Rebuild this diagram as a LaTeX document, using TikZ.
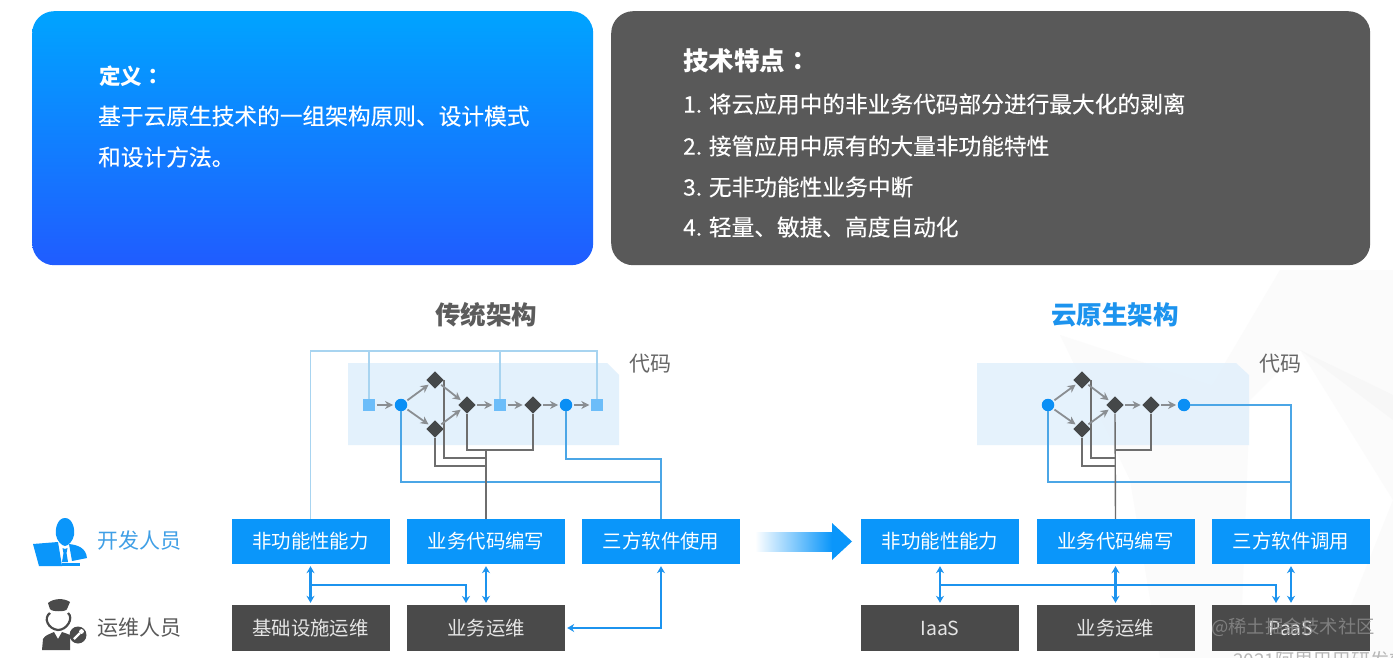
\documentclass[tikz,border=0pt]{standalone}
\usepackage{fontspec}
\setmainfont{Noto Sans CJK SC}
\newfontfamily\medf[FakeBold=0.25]{Noto Sans CJK SC}
\newfontfamily\tcf{Noto Sans CJK TC}
\usetikzlibrary{arrows.meta,calc,shapes.geometric}
\newcommand{\fs}[1]{\fontsize{#1pt}{#1pt}\selectfont}
\definecolor{boxblue}{HTML}{0A96FA}
\definecolor{boxdark}{HTML}{4A4A4A}
\definecolor{lineblue}{HTML}{4BA6E6}
\definecolor{paleline}{HTML}{A8D4F0}
\definecolor{arrowblue}{HTML}{1C93EE}
\definecolor{flowgray}{HTML}{8A8E92}
\definecolor{stemgray}{HTML}{6E6E6E}
\definecolor{panelblue}{HTML}{E3F1FC}
\definecolor{sqblue}{HTML}{6CBDF9}
\definecolor{dotblue}{HTML}{0A8FF5}
\definecolor{diam}{HTML}{454849}
\definecolor{roleblue}{HTML}{3F9FE6}
\tikzset{
  bluebox/.style={fill=boxblue,text=white,minimum width=158pt,minimum height=45pt,inner sep=0pt,font=\fs{19.4}},
  darkbox/.style={fill=boxdark,text=white!90!black,minimum width=158pt,minimum height=46pt,inner sep=0pt,font=\fs{19.4}},
  sq/.style={fill=sqblue,minimum size=12pt,inner sep=0pt},
  dot/.style={circle,fill=dotblue,minimum size=12.5pt,inner sep=0pt},
  dia/.style={diamond,fill=diam,minimum size=17.5pt,inner sep=0pt},
  flow/.style={flowgray,line width=1.8pt,-{Stealth[length=8pt,width=8pt]},shorten >=1.5pt,shorten <=1.5pt},
  stem/.style={stemgray,line width=1.4pt},
  pale/.style={paleline,line width=1.5pt},
  blueln/.style={lineblue,line width=1.4pt},
  dbl/.style={arrowblue,line width=2.2pt,{Stealth[length=7pt,width=8pt]}-{Stealth[length=7pt,width=8pt]}},
  sgl/.style={arrowblue,line width=2.2pt,-{Stealth[length=7pt,width=8pt]}},
  paneltxt/.style={anchor=west,text=white,inner sep=0pt},
}
\begin{document}
\begin{tikzpicture}[x=1pt,y=-1pt]
\useasboundingbox (0,0) rectangle (1393,658);
% background
\fill[white] (0,0) rectangle (1393,658);
\fill[white!98.4!black] (1060,335) -- (1212,385) -- (1280,270) -- (1393,270) -- (1393,658) -- (1330,658) -- (1393,500) -- (1300,350) -- (1250,400) -- (1240,658) -- (1160,658) -- (1130,480) -- cycle;
\fill[white!97!black] (1300,350) -- (1393,395) -- (1393,420) -- cycle;
% top panels
\node[rounded corners=22pt,minimum width=561pt,minimum height=254pt,inner sep=0pt,anchor=north west,
  shade,top color={rgb,255:red,0;green,164;blue,255},bottom color={rgb,255:red,32;green,92;blue,255}] (defpanel) at (32,11) {};
\node[rounded corners=22pt,fill={rgb,255:red,89;green,89;blue,89},minimum width=759pt,minimum height=254pt,inner sep=0pt,anchor=north west] (featpanel) at (611,11) {};
\node[paneltxt,font=\fs{21.5}\bfseries] (d0) at (99,76) {定义{\tcf\bfseries ：}};
\node[paneltxt,font=\fs{22.7}\medf] (d1) at (98,116) {基于云原生技术的一组架构原则、设计模式};
\node[paneltxt,font=\fs{22.7}\medf] (d2) at (98,157) {和设计方法。};
\node[paneltxt,font=\fs{25.5}\bfseries] (f0) at (683,61) {技术特点{\tcf\bfseries ：}};
\node[paneltxt,font=\fs{22.7}\medf] (f1) at (683,104) {1. 将云应用中的非业务代码部分进行最大化的剥离};
\node[paneltxt,font=\fs{22.7}\medf] (f2) at (683,146) {2. 接管应用中原有的大量非功能特性};
\node[paneltxt,font=\fs{22.7}\medf] (f3) at (683,187) {3. 无非功能性业务中断};
\node[paneltxt,font=\fs{22.7}\medf] (f4) at (683,227) {4. 轻量、敏捷、高度自动化};
% titles
\node[font=\fs{25.5}\bfseries,text=boxdark!90!white,inner sep=0pt] (t1) at (486,315) {传统架构};
\node[font=\fs{25.5}\bfseries,text=arrowblue,inner sep=0pt] (t2) at (1115,315) {云原生架构};
\node[font=\fs{21},text=black!60,inner sep=0pt] (c1) at (650,364) {代码};
\node[font=\fs{21},text=black!60,inner sep=0pt] (c2) at (1280,364) {代码};
% code panels
\fill[panelblue] (348,363) -- (607,363) -- (619,375) -- (619,445) -- (348,445) -- cycle;
\fill[panelblue,opacity=.9] (977,363) -- (1236,363) -- (1249,375) -- (1249,445) -- (977,445) -- cycle;
% boxes
\node[bluebox] (a1) at (310.5,541.5) {非功能性能力};
\node[bluebox] (a2) at (486,541.5) {业务代码编写};
\node[bluebox] (a3) at (661,541.5) {三方软件使用};
\node[darkbox] (b1) at (310.5,628) {基础设施运维};
\node[darkbox] (b2) at (486,628) {业务运维};
\node[bluebox] (a4) at (940,541.5) {非功能性能力};
\node[bluebox] (a5) at (1115.5,541.5) {业务代码编写};
\node[bluebox] (a6) at (1291,541.5) {三方软件调用};
\node[darkbox] (b4) at (940,628) {IaaS};
\node[darkbox] (b5) at (1115.5,628) {业务运维};
\node[darkbox] (b6) at (1291,628) {PaaS};
% left flow nodes
\node[sq] (s1) at (369,405) {};
\node[dot] (o1) at (401,405) {};
\node[dia] (dt) at (435,380) {};
\node[dia] (db) at (435,429) {};
\node[dia] (dm) at (467,405) {};
\node[sq] (s2) at (500,405) {};
\node[dia] (dr) at (533,405) {};
\node[dot] (o2) at (566,405) {};
\node[sq] (s3) at (597,405) {};
% right flow nodes
\node[dot] (o3) at (1048,405) {};
\node[dia] (et) at (1082,380) {};
\node[dia] (eb) at (1082,429) {};
\node[dia] (em) at (1115,405) {};
\node[dia] (er) at (1151,405) {};
\node[dot] (o4) at (1184,405) {};
% left connectors
\draw[pale] (a1.north) -- (a1.north |- 0,351) -- (s3.north |- 0,351) -- (s3.north);
\draw[pale] (s1.north |- 0,351) -- (s1.north);
\draw[pale] (s2.north |- 0,351) -- (s2.north);
\draw[blueln] (o1.south) |- (a3.north |- 0,482);
\draw[blueln] (o2.south) |- (a3.north |- 0,459) -- (a3.north);
\draw[stem] (dm.south) |- (dr.south |- 0,450) -- (dr.south);
\draw[stem] (a2.north) -- (a2.north |- 0,450);
\draw[stem] (dt.east) |- (a2.north |- 0,458);
\draw[stem] (db.south) |- (a2.north |- 0,466);
\draw[flow] (s1) -- (o1);
\draw[flow] (o1) -- (dt);
\draw[flow] (o1) -- (db);
\draw[flow] (dt) -- (dm);
\draw[flow] (db) -- (dm);
\draw[flow] (dm) -- (s2);
\draw[flow] (s2) -- (dr);
\draw[flow] (dr) -- (o2);
\draw[flow] (o2) -- (s3);
% right connectors
\draw[blueln] (o4.east) -| (a6.north);
\draw[blueln] (o3.south) |- (a6.north |- 0,482);
\draw[stem] (em.south) -- (a5.north);
\draw[stem] (er.south) |- (a5.north |- 0,450);
\draw[stem] (et.east) |- (a5.north |- 0,458);
\draw[stem] (eb.south) |- (a5.north |- 0,466);
\draw[flow] (o3) -- (et);
\draw[flow] (o3) -- (eb);
\draw[flow] (et) -- (em);
\draw[flow] (eb) -- (em);
\draw[flow] (em) -- (er);
\draw[flow] (er) -- (o4);
% ops arrows left
\draw[dbl,shorten >=2pt,shorten <=2pt] (a1.south) -- (b1.north);
\draw[dbl,shorten >=2pt,shorten <=2pt] (a2.south) -- (b2.north);
\coordinate (j1) at (a1.south |- 0,585);
\coordinate (k1) at (466,605);
\draw[sgl,shorten >=2pt] (j1) -| (k1);
\draw[dbl,shorten >=2pt,shorten <=2pt] (a3.south) |- (b2.east);
% ops arrows right
\draw[dbl,shorten >=2pt,shorten <=2pt] (a4.south) -- (b4.north);
\draw[dbl,shorten >=2pt,shorten <=2pt] (a5.south) -- (b5.north);
\draw[dbl,shorten >=2pt,shorten <=2pt] (a6.south) -- (b6.north);
\coordinate (j2) at (a4.south |- 0,585);
\coordinate (k2) at (1276,605);
\draw[sgl,shorten >=2pt] (j2) -| (k2);
% big arrow
\shade[left color=white,right color=boxblue] (755,532) -- (832,532) -- (832,551) -- (755,551) -- cycle;
\fill[boxblue] (832,523) -- (852,541.5) -- (832,560) -- cycle;
% developer icon
\fill[boxblue] (65,518) .. controls (57,518) and (55,530) .. (56,535) .. controls (57,541) and (62,546) .. (65,546) .. controls (68,546) and (73,541) .. (74,535) .. controls (75,530) and (73,518) .. (65,518) -- cycle;
\fill[boxblue] (33,544) -- (58,542) -- (62,566) -- (39,566) -- cycle;
\fill[boxblue] (69,544) .. controls (78,545) and (86,548) .. (87,558) -- (72,561) -- cycle;
\fill[boxblue] (62,563) -- (80,563) -- (80,566) -- (62,566) -- cycle;
\fill[boxblue] (62.5,548) -- (65,549) -- (67.5,548) -- (66.5,553) -- (68,562) -- (62,562) -- (63.5,553) -- cycle;
% ops icon
\fill[boxdark] (48,603) .. controls (54,598) and (64,598) .. (70,602) -- (67,609) .. controls (67,612) and (51,612) .. (50,609) -- cycle;
\draw[boxdark,line width=2.2pt] (50,613) .. controls (43,618) and (48,629) .. (58,630) .. controls (67,630) and (74,618) .. (68,613);
\fill[boxdark] (42,650) -- (43,639) .. controls (45,635) and (50,634) .. (54,632) -- (58,639) -- (62,632) .. controls (65,633) and (68,634) .. (70,635) -- (70,650) -- cycle;
\fill[boxdark] (78,635) circle (8.5pt);
\draw[white,line width=2.2pt] (74,639) -- (80,633);
\fill[white] (81.5,631.5) circle (2.4pt);
\node[font=\fs{21},text=roleblue,inner sep=0pt] (r1) at (139,541) {开发人员};
\node[font=\fs{21},text=black!65,inner sep=0pt] (r2) at (139,628) {运维人员};
% watermark and cut-off footer
\node[font=\fs{18.3},text=black!45,text opacity=.8,inner sep=0pt] (wm) at (1293,627) {@稀土掘金技术社区};
\begin{scope}
\clip (1193,640) rectangle (1393,658);
\node[font=\fs{19},text=black!28,anchor=west,inner sep=0pt] (ft) at (1233,660) {2021阿里巴巴研发效能};
\end{scope}
\end{tikzpicture}
\end{document}
